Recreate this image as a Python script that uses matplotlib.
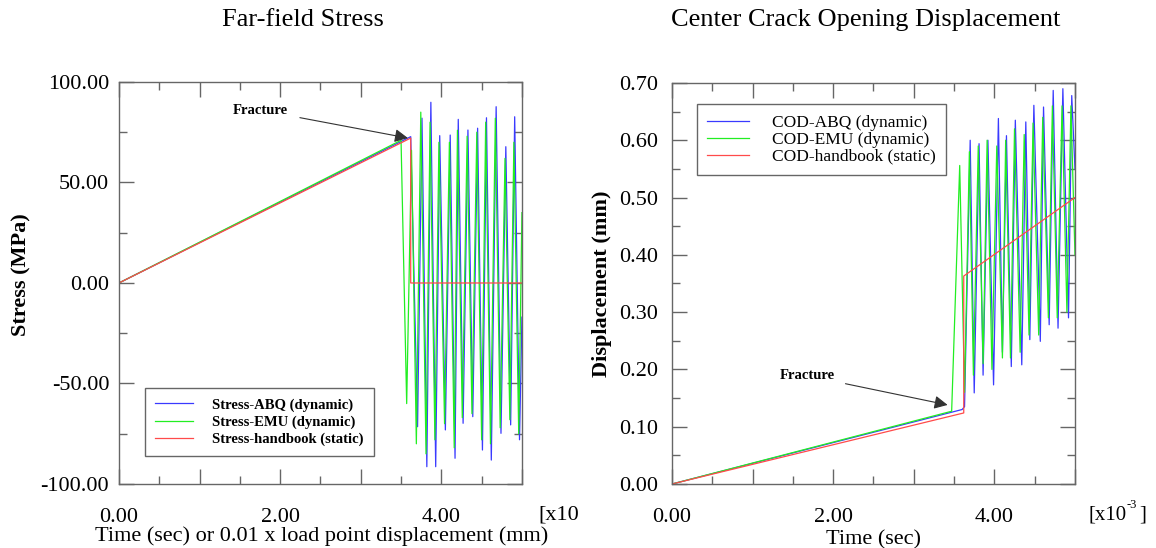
import numpy as np
import matplotlib.pyplot as plt
from matplotlib.ticker import MultipleLocator, FixedLocator, FixedFormatter, FormatStrFormatter

plt.rcParams['font.family'] = ['Liberation Serif', 'DejaVu Serif']

# ---------------- data (time in 1e-3 s) ----------------
# Far-field stress (MPa)
t_abq_stress = [0, 3.62, 3.705, 3.76, 3.82, 3.87, 3.93, 3.98, 4.05, 4.11, 4.17, 4.21, 4.27,
                4.33, 4.39, 4.45, 4.51, 4.56, 4.62, 4.68, 4.74, 4.80, 4.86, 4.91, 4.97, 5.00]
s_abq = [0, 72.8, -71.5, 82.0, -91.4, 89.9, -91.4, 73.3, -73.1, 73.6, -87.2, 81.4, -69.8,
         76.1, -66.5, 77.0, -83.1, 82.2, -88.1, 87.7, -74.8, 67.8, -70.6, 82.7, -78.0, -17.0]

t_emu_stress = [0, 3.50, 3.57, 3.63, 3.69, 3.745, 3.81, 3.86, 3.92, 3.97, 4.04, 4.10, 4.16, 4.20,
                4.26, 4.32, 4.38, 4.44, 4.50, 4.55, 4.61, 4.67, 4.73, 4.79, 4.85, 4.90, 4.96, 5.00]
s_emu = [0, 71.0, -60.0, 66.0, -80.0, 85.0, -85.0, 80.0, -78.0, 70.0, -70.0, 70.0, -82.0, 76.0,
         -67.0, 73.0, -65.0, 75.0, -78.0, 80.0, -80.0, 82.0, -72.0, 62.0, -68.0, 70.0, -75.0, 35.0]

t_hb_stress = [0, 3.62, 3.62, 5.00]
s_hb = [0, 72.1, 0, 0]

# Center crack opening displacement (mm)
t_abq_cod = [0, 3.60, 3.63, 3.70, 3.75, 3.81, 3.86, 3.92, 3.99, 4.05, 4.10, 4.15, 4.21, 4.26,
             4.34, 4.39, 4.44, 4.49, 4.57, 4.61, 4.68, 4.73, 4.79, 4.85, 4.92, 4.96, 5.00]
d_abq = [0, 0.130, 0.135, 0.600, 0.159, 0.594, 0.190, 0.600, 0.173, 0.638, 0.230, 0.608, 0.205,
         0.635, 0.208, 0.632, 0.252, 0.661, 0.249, 0.658, 0.278, 0.687, 0.272, 0.690, 0.290,
         0.678, 0.55]

t_emu_cod = [0, 3.47, 3.57, 3.63, 3.69, 3.74, 3.80, 3.86, 3.91, 3.97, 4.03, 4.10, 4.14, 4.20,
             4.25, 4.32, 4.37, 4.43, 4.48, 4.55, 4.60, 4.67, 4.72, 4.78, 4.84, 4.90, 4.95, 5.00]
d_emu = [0, 0.127, 0.556, 0.160, 0.580, 0.190, 0.590, 0.210, 0.600, 0.200, 0.590, 0.220, 0.600,
         0.220, 0.620, 0.230, 0.610, 0.260, 0.630, 0.260, 0.640, 0.290, 0.660, 0.290, 0.660,
         0.300, 0.660, 0.400]

t_hb_cod = [0, 3.62, 3.62, 5.00]
d_hb = [0, 0.124, 0.363, 0.500]

x_tick_vals = [0, 1, 2, 3, 4, 5]
x_tick_text = ['0.00', '', '2.00', '', '4.00', '']

c_blue = '#3a3aff'
c_green = '#22ee22'
c_red = '#ff4a4a'
spine_c = '#666666'

fig = plt.figure(figsize=(11.56, 5.48), dpi=100)
ax1 = fig.add_axes([0.1029, 0.1168, 0.3486, 0.7336])
ax2 = fig.add_axes([0.5813, 0.1168, 0.3486, 0.7318])


def style_axes(ax):
    for s in ax.spines.values():
        s.set_color(spine_c)
        s.set_linewidth(1.0)
    ax.xaxis.set_major_locator(FixedLocator(x_tick_vals))
    ax.xaxis.set_major_formatter(FixedFormatter(x_tick_text))
    ax.xaxis.set_minor_locator(MultipleLocator(0.5))
    ax.tick_params(which='both', direction='in', top=True, right=True, color=spine_c,
                   width=1.0, labelsize=16)
    ax.tick_params(which='major', length=11)
    ax.tick_params(which='minor', length=5.5)
    ax.tick_params(axis='x', which='major', pad=17)
    ax.tick_params(axis='y', which='major', pad=7)
    ax.set_xlim(0, 5)


# ---------------- left: far-field stress ----------------
ax1.plot(t_abq_stress, s_abq, color=c_blue, lw=0.9, label='Stress-ABQ (dynamic)')
ax1.plot(t_emu_stress, s_emu, color=c_green, lw=0.9, label='Stress-EMU (dynamic)')
ax1.plot(t_hb_stress, s_hb, color=c_red, lw=0.9, label='Stress-handbook (static)')
style_axes(ax1)
ax1.set_ylim(-100, 100)
ax1.yaxis.set_major_locator(MultipleLocator(50))
ax1.yaxis.set_minor_locator(MultipleLocator(25))
ax1.yaxis.set_major_formatter(FormatStrFormatter('%.2f'))
ax1.set_ylabel('Stress (MPa)', fontsize=16, fontweight='bold')
ax1.yaxis.set_label_coords(-0.218, 0.52)
ax1.set_xlabel('Time (sec) or 0.01 x load point displacement (mm)', fontsize=16)
ax1.xaxis.set_label_coords(0.504, -0.105)
ax1.annotate('Fracture', xy=(3.586, 72.1), xytext=(1.75, 86), fontsize=10.5,
             fontweight='bold', ha='center', va='center',
             arrowprops=dict(arrowstyle='-|>', color='#333333', lw=0.8,
                             mutation_scale=20, shrinkA=7, shrinkB=0))
leg1 = ax1.legend(loc='upper left', bbox_to_anchor=(0.1254, 0.292),
                  bbox_transform=fig.transFigure, borderaxespad=0, fancybox=False,
                  edgecolor=spine_c, framealpha=1, handlelength=2.6, handletextpad=1.3,
                  labelspacing=0.25, borderpad=0.7, prop={'size': 10.5, 'weight': 'bold'})
leg1.get_frame().set_linewidth(1.0)

# ---------------- right: COD ----------------
ax2.plot(t_abq_cod, d_abq, color=c_blue, lw=0.9, label='COD-ABQ (dynamic)')
ax2.plot(t_emu_cod, d_emu, color=c_green, lw=0.9, label='COD-EMU (dynamic)')
ax2.plot(t_hb_cod, d_hb, color=c_red, lw=0.9, label='COD-handbook (static)')
style_axes(ax2)
ax2.set_ylim(0, 0.7)
ax2.yaxis.set_major_locator(MultipleLocator(0.1))
ax2.yaxis.set_minor_locator(MultipleLocator(0.05))
ax2.yaxis.set_major_formatter(FormatStrFormatter('%.2f'))
ax2.tick_params(axis='y', which='major', pad=10)
ax2.set_ylabel('Displacement (mm)', fontsize=16, fontweight='bold')
ax2.yaxis.set_label_coords(-0.149, 0.50)
ax2.set_xlabel('Time (sec)', fontsize=16)
ax2.xaxis.set_label_coords(0.50, -0.115)
ax2.annotate('Fracture', xy=(3.42, 0.138), xytext=(1.675, 0.189), fontsize=10.5,
             fontweight='bold', ha='center', va='center',
             arrowprops=dict(arrowstyle='-|>', color='#333333', lw=0.8,
                             mutation_scale=20, shrinkA=6, shrinkB=0))
leg2 = ax2.legend(loc='upper left', bbox_to_anchor=(0.603, 0.810),
                  bbox_transform=fig.transFigure, borderaxespad=0, fancybox=False,
                  edgecolor=spine_c, framealpha=1, handlelength=2.4, handletextpad=1.3,
                  labelspacing=0.05, borderpad=0.6, prop={'size': 12.5})
leg2.get_frame().set_linewidth(1.0)

# titles and exponent markers
fig.text(303 / 1156, 1 - 20 / 548, 'Far-field Stress', fontsize=19, ha='center', va='center')
fig.text(866 / 1156, 1 - 20 / 548, 'Center Crack Opening Displacement', fontsize=19,
         ha='center', va='center')
fig.text(538 / 1156, 1 - 515 / 548, '[x10', fontsize=16, ha='left', va='center')
fig.text(1088 / 1156, 1 - 515 / 548, '[x10', fontsize=15, ha='left', va='center')
fig.text(1127 / 1156, 1 - 505 / 548, '-3', fontsize=9, ha='left', va='center')
fig.text(1139 / 1156, 1 - 515 / 548, ']', fontsize=15, ha='left', va='center')

fig.savefig('out.png', dpi=100)
